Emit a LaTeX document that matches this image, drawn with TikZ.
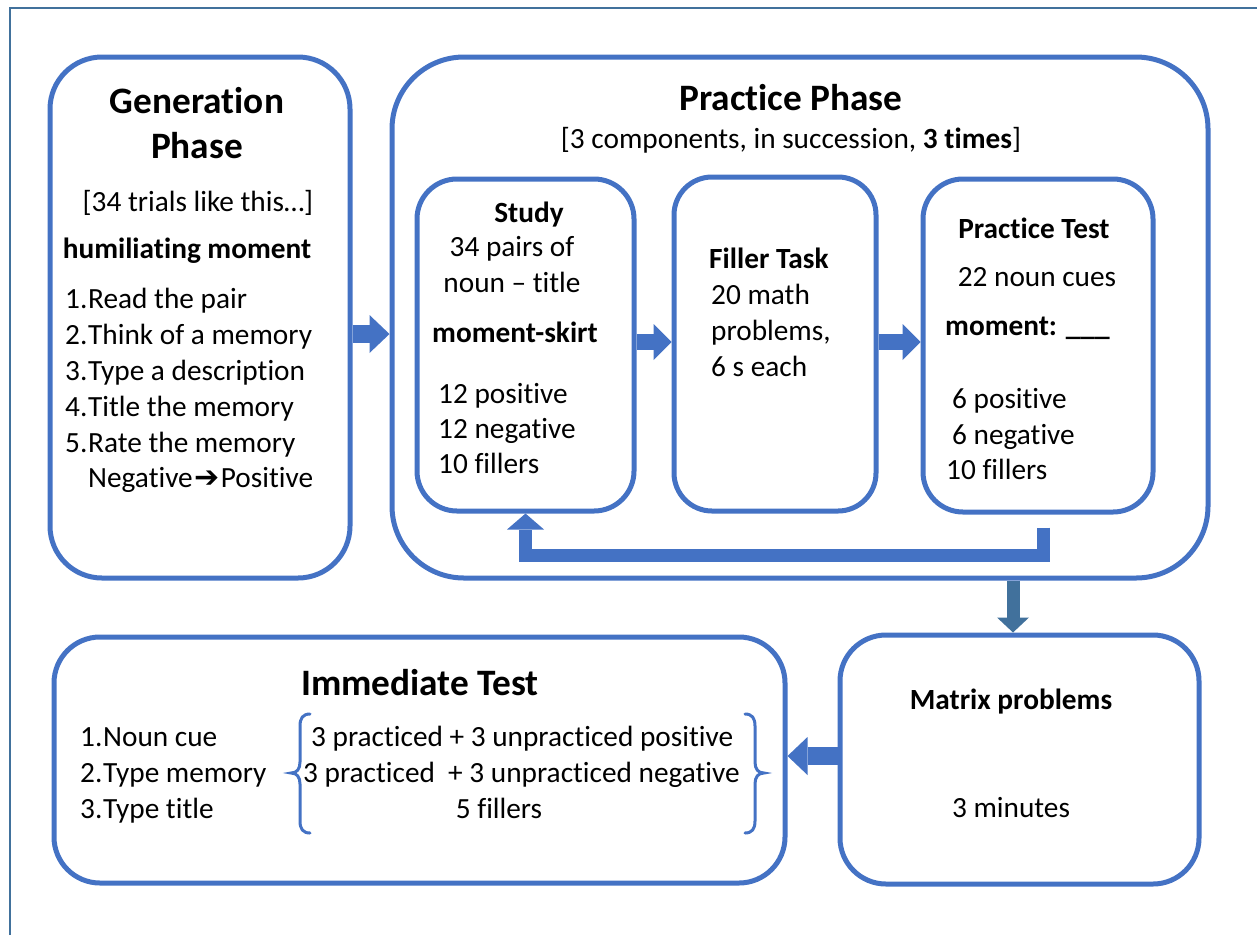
\documentclass[tikz,border=0pt]{standalone}
\usepackage{fontspec}
\setmainfont{Carlito}[Ligatures=NoCommon]
\newfontfamily\djv{DejaVu Sans}
\usetikzlibrary{arrows.meta,calc}
\definecolor{obl}{HTML}{4472C4}
\definecolor{stl}{HTML}{41719C}
\newcommand\bodyf{\fontsize{29.3}{36}\selectfont}
\newcommand\titlef{\fontsize{37.3}{45}\selectfont\bfseries}
\newcommand\numb[1]{\makebox[23pt][l]{#1}}
\tikzset{
  rbox/.style={draw=obl, line width=5pt, inner sep=0pt},
  t/.style={inner sep=0pt, font=\bodyf, anchor=base},
  tl/.style={t, anchor=base west},
  tt/.style={inner sep=0pt, font=\titlef, anchor=base},
  barrow/.style={draw=obl, line width=18pt, -{Triangle[length=20pt,width=38pt,line width=0pt]}},
  sarrow/.style={draw=obl, line width=16pt, -{Triangle[length=18pt,width=36pt,line width=0pt]}},
  marrow/.style={draw=stl, line width=13pt, -{Triangle[length=15pt,width=32pt,line width=0pt]}},
  fbarrow/.style={draw=obl, line width=13pt, line join=miter, -{Triangle[length=16pt,width=37pt,line width=0pt]}},
  bracestyle/.style={draw=obl, line width=3pt, line cap=round}
}
\begin{document}
\begin{tikzpicture}[x=1pt,y=-1pt]
\useasboundingbox (0,0) rectangle (1257,935);
% outer frame
\draw[stl, line width=1.5pt] (10,935) -- (10,8) -- (1257,8);

% boxes
\node[rbox, rounded corners=52pt, minimum width=300pt, minimum height=521pt] (gen) at (200,317.5) {};
\node[rbox, rounded corners=72pt, minimum width=816pt, minimum height=521pt] (prac) at (800,317.5) {};
\node[rbox, rounded corners=40pt, minimum width=217pt, minimum height=332pt] (study) at (525.5,345) {};
\node[rbox, rounded corners=38pt, minimum width=202pt, minimum height=334pt] (filler) at (775,344) {};
\node[rbox, rounded corners=40pt, minimum width=230pt, minimum height=333pt] (ptest) at (1038,345.5) {};
\node[rbox, rounded corners=46pt, minimum width=359pt, minimum height=249pt] (matrix) at (1019.5,759.5) {};
\node[rbox, rounded corners=46pt, minimum width=731pt, minimum height=246pt] (immed) at (419.5,760) {};

% Generation phase texts
\node[tt] (g1) at (197,113) {Generation};
\node[tt] (g2) at (197,158) {Phase};
\node[t] (g3) at (198,211) {[34 trials like this…]};
\node[t, font=\bodyf\bfseries] (g4) at (187,258) {humiliating moment};
\node[tl] (g5) at (65,308) {\numb{1.}Read the pair};
\node[tl] (g6) at (65,344) {\numb{2.}Think of a memory};
\node[tl] (g7) at (65,380) {\numb{3.}Type a description};
\node[tl] (g8) at (65,416) {\numb{4.}Title the memory};
\node[tl] (g9) at (65,452) {\numb{5.}Rate the memory};
\node[tl] (g10) at (88,487) {Negative\hspace{2pt}{\djv\fontsize{30}{30}\selectfont ➔}\hspace{1pt}Positive};

% Practice phase texts
\node[tt] (p1) at (791,110) {Practice Phase};
\node[t] (p2) at (791,148) {[3 components, in succession, \textbf{3 times}]};

% Study
\node[t, font=\bodyf\bfseries] (s1) at (529,222) {Study};
\node[t] (s2) at (512,256) {34 pairs of};
\node[t] (s3) at (512,292) {noun – title};
\node[t, font=\bodyf\bfseries] (s4) at (515,342) {moment-skirt};
\node[tl] (s5) at (438,403) {12 positive};
\node[tl] (s6) at (438,438) {12 negative};
\node[tl] (s7) at (438,473) {10 fillers};

% Filler
\node[tl, font=\bodyf\bfseries] (f1) at (709,268) {Filler Task};
\node[tl] (f2) at (711,304) {20 math};
\node[tl] (f3) at (711,340) {problems,};
\node[tl] (f4) at (711,376) {6 s each};

% Practice test
\node[t, font=\bodyf\bfseries] (q1) at (1034,238) {Practice Test};
\node[t] (q2) at (1037,286) {22 noun cues};
\node[tl, font=\bodyf\bfseries] (q3) at (945,335) {moment: \_\_\_};
\node[tl] (q4) at (952,408) {6 positive};
\node[tl] (q5) at (952,444) {6 negative};
\node[tl] (q6) at (946,479) {10 fillers};

% Matrix
\node[t, font=\bodyf\bfseries] (m1) at (1011,709) {Matrix problems};
\node[t] (m2) at (1011,817) {3 minutes};

% Immediate test
\node[tt] (i1) at (420,695) {Immediate Test};
\node[tl] (i2) at (80,746) {\numb{1.}Noun cue};
\node[tl] (i3) at (80,782) {\numb{2.}Type memory};
\node[tl] (i4) at (80,818) {\numb{3.}Type title};
\node[tl] (i5) at (311,746) {3 practiced + 3 unpracticed positive};
\node[tl] (i6) at (303,782) {3 practiced~ + 3 unpracticed negative};
\node[t] (i7) at (499,818) {5 fillers};

% braces
\draw[bracestyle] (310,714) .. controls (303,714) and (300,718) .. (300,726) -- (300,762)
   .. controls (300,769) and (297,773) .. (291,773) .. controls (297,773) and (300,777) .. (300,784)
   -- (300,821) .. controls (300,829) and (303,833) .. (310,833);
\draw[bracestyle] (745,714) .. controls (752,714) and (755,718) .. (755,726) -- (755,762)
   .. controls (755,769) and (758,773) .. (764,773) .. controls (758,773) and (755,777) .. (755,784)
   -- (755,821) .. controls (755,829) and (752,833) .. (745,833);

% arrows
\coordinate (ay1) at (0,334);
\coordinate (ay2) at (0,342);
\coordinate (ay3) at (0,756);
\coordinate (mx) at (1013,0);
\draw[barrow] (gen.east |- ay1) -- (prac.west |- ay1);
\draw[sarrow] (study.east |- ay2) -- (filler.west |- ay2);
\draw[sarrow] (filler.east |- ay2) -- (ptest.west |- ay2);
\draw[marrow] (prac.south -| mx) -- (matrix.north -| mx);
\draw[barrow] (matrix.west |- ay3) -- (immed.east |- ay3);
\draw[fbarrow] ($(ptest.south)+(5,13)$) -- ($(ptest.south)+(5,41)$) -| (study.south);
\end{tikzpicture}
\end{document}
